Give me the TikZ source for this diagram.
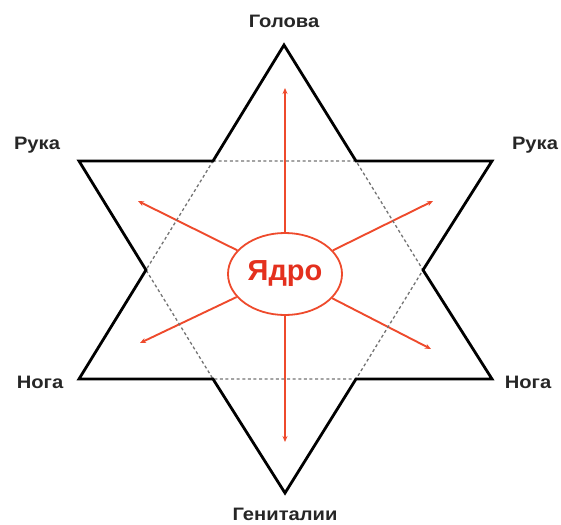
\documentclass[tikz,border=0pt]{standalone}
\usepackage{fontspec}
\setmainfont{Liberation Sans}
\usetikzlibrary{arrows.meta,shapes.geometric}
\definecolor{starred}{HTML}{EE4A2C}
\definecolor{coretext}{HTML}{E4301E}
\tikzset{
  outline/.style={line width=2.8pt, line join=miter, black},
  inner/.style={dashed, dash pattern=on 3pt off 2.6pt, line width=1.3pt, black!55},
  ray/.style={line width=1.9pt, starred, -{Stealth[length=6pt,width=5pt]}},
  lbl/.style={font=\bfseries\fontsize{18}{20}\selectfont, text=black!85, xscale=1.12, inner sep=0pt},
}
\begin{document}
\begin{tikzpicture}[x=1pt,y=-1pt]
\useasboundingbox (0,0) rectangle (561,524);
% vertices
\coordinate (T) at (284,45);
\coordinate (B) at (285,493);
\coordinate (UL) at (79,161);
\coordinate (UR) at (492,161);
\coordinate (LL) at (79,379);
\coordinate (LR) at (492,379);
% inner hexagon
\coordinate (h1) at (213,161);
\coordinate (h2) at (356,161);
\coordinate (h3) at (423,270);
\coordinate (h4) at (356,379);
\coordinate (h5) at (213,379);
\coordinate (h6) at (146,270);
% core
\node[ellipse, draw=starred, line width=1.8pt, fill=white, minimum width=114pt, minimum height=82pt, inner sep=0pt,
      font=\bfseries\fontsize{29}{30}\selectfont, text=coretext] (core) at (285,274) {Ядро};
% ray ends
\coordinate (aU) at (285,88);
\coordinate (aD) at (285,442);
\coordinate (aUL) at (138,201);
\coordinate (aUR) at (433,201);
\coordinate (aLL) at (140,343);
\coordinate (aLR) at (431,349);
\foreach \e in {aU,aD,aUL,aUR,aLL,aLR}
  \draw[ray] (core) -- (\e);
\draw[inner] (h1) -- (h2) -- (h3) -- (h4) -- (h5) -- (h6) -- cycle;
\draw[outline] (T) -- (h2) -- (UR) -- (h3) -- (LR) -- (h4) -- (B) -- (h5) -- (LL) -- (h6) -- (UL) -- (h1) -- cycle;
% labels
\node[lbl] (head) at (284,21) {Голова};
\node[lbl] (armL) at (37,145) {Рука};
\node[lbl] (armR) at (535,145) {Рука};
\node[lbl] (legL) at (40,382) {Нога};
\node[lbl] (legR) at (528,382) {Нога};
\node[lbl] (gen) at (285,514) {Гениталии};
\end{tikzpicture}
\end{document}
